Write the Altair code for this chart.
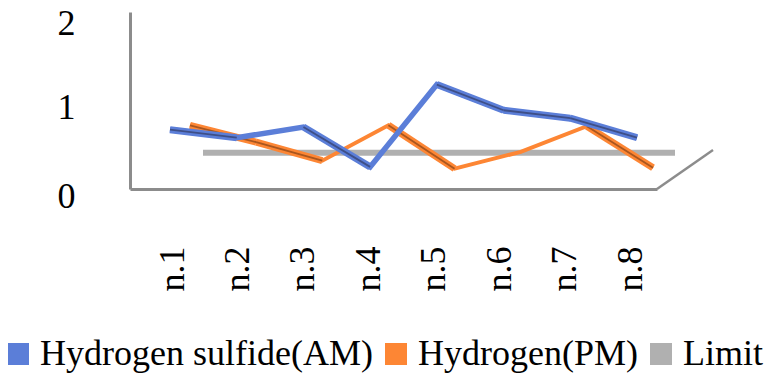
import altair as alt
import pandas as pd

categories = ["n.1", "n.2", "n.3", "n.4", "n.5", "n.6", "n.7", "n.8"]
h2s_am = [0.67, 0.58, 0.70, 0.25, 1.18, 0.89, 0.80, 0.58]
hydrogen_pm = [0.72, 0.53, 0.32, 0.72, 0.23, 0.42, 0.71, 0.24]
limit = [0.41, 0.41, 0.41, 0.41, 0.41, 0.41, 0.41, 0.41]
series_names = ["Hydrogen sulfide(AM)", "Hydrogen(PM)", "Limit"]
series_colors = ["#5b7ed8", "#fd8634", "#b0b0b0"]
dark_colors = ["#3e4f87", "#a8561f"]
y_max = 2

FONT = "Liberation Serif"
AXIS_GREY = "#8c8c8c"
W, H = 527, 177

stroke_scale = alt.Scale(domain=series_names, range=series_colors)
fill_scale = alt.Scale(domain=series_names, range=series_colors)
y_scale = alt.Scale(domain=[0, y_max], nice=False)

legend = alt.Legend(
    title=None, orient="none", legendX=-130, legendY=324, direction="horizontal",
    symbolType="square", symbolSize=484, symbolStrokeWidth=0, symbolOpacity=1,
    labelFont=FONT, labelFontSize=36, labelColor="black", labelLimit=600,
    labelOffset=4, columnPadding=5, padding=0,
)

y_axis = alt.Axis(
    title=None, tickCount=2, labelFont=FONT, labelFontSize=36,
    labelColor="black", ticks=False, tickSize=0, labelPadding=55,
    labelOffset={"condition": {"test": "datum.value == 2", "value": 11}, "value": 7},
    labelOverlap=False, labelBound=False, labelFlush=False,
    domainColor=AXIS_GREY, domainWidth=3, grid=False,
)


def series_df(name, vals):
    return pd.DataFrame({"cat": categories, "value": vals, "series": name})


def desc_segments(vals):
    rows = []
    for i in range(len(vals) - 1):
        if vals[i + 1] < vals[i]:
            rows.append({"cat": categories[i], "cat2": categories[i + 1],
                         "v": vals[i], "v2": vals[i + 1]})
    return pd.DataFrame(rows)


def line_group(idx, vals, rng, base_w, ribbon=True):
    xs = alt.Scale(type="point", domain=categories, range=rng, padding=0)
    df = series_df(series_names[idx], vals)
    line = alt.Chart(df).mark_line(strokeWidth=base_w).encode(
        x=alt.X("cat:N", scale=xs, axis=None, sort=categories),
        y=alt.Y("value:Q", scale=y_scale, axis=y_axis),
        stroke=alt.Stroke("series:N", scale=stroke_scale, legend=None),
    )
    if not ribbon:
        return line
    seg = desc_segments(vals)
    wide = alt.Chart(seg).mark_rule(strokeWidth=7, color=series_colors[idx]).encode(
        x=alt.X("cat:N", scale=xs, axis=None, sort=categories),
        x2="cat2:N",
        y=alt.Y("v:Q", scale=y_scale, axis=y_axis),
        y2="v2:Q",
    )
    dark = alt.Chart(seg).mark_rule(strokeWidth=1.8, color=dark_colors[idx]).encode(
        x=alt.X("cat:N", scale=xs, axis=None, sort=categories),
        x2="cat2:N",
        y=alt.Y("v:Q", scale=y_scale, axis=y_axis),
        y2="v2:Q",
    )
    return alt.layer(line, wide, dark)


gray = line_group(2, limit, [73, 545], 6, ribbon=False)
orange = line_group(1, hydrogen_pm, [60, 523], 4)
blue = line_group(0, h2s_am, [40, 507], 5.5)

axis_scale = alt.Scale(type="point", domain=categories, range=[0, W], padding=0.527, align=0.609)
x_axis_layer = alt.Chart(pd.DataFrame({"cat": categories})).mark_point(opacity=0).encode(
    x=alt.X("cat:N", scale=axis_scale, sort=categories, axis=alt.Axis(
        title=None, labelAngle=270, labelFont=FONT, labelFontSize=36, labelColor="black",
        ticks=False, tickSize=0, labelPadding=57, domainColor=AXIS_GREY, domainWidth=3,
        grid=False)),
)

legend_layer = alt.Chart(pd.DataFrame({"series": series_names})).mark_square(
    filled=True
).encode(
    fill=alt.Fill("series:N", scale=fill_scale, legend=legend),
).transform_filter("datum.series == 'none'")

diag = alt.Chart(pd.DataFrame({"d": [0]})).mark_rule(color=AXIS_GREY, strokeWidth=2.5).encode(
    x=alt.value(W), x2=alt.value(W + 56), y=alt.value(H), y2=alt.value(H - 39)
)

chart = alt.layer(x_axis_layer, diag, legend_layer, gray, orange, blue).resolve_scale(
    x="independent"
).properties(
    width=W, height=H,
    autosize=alt.AutoSizeParams(type="none"),
    padding={"left": 122, "top": 4, "right": 768 - 122 - W, "bottom": 365 - 4 - H},
).configure_view(stroke=None).configure_axisY(labelOverlap=False)

chart.save("out.html", embed_options={"renderer": "svg", "actions": False})
